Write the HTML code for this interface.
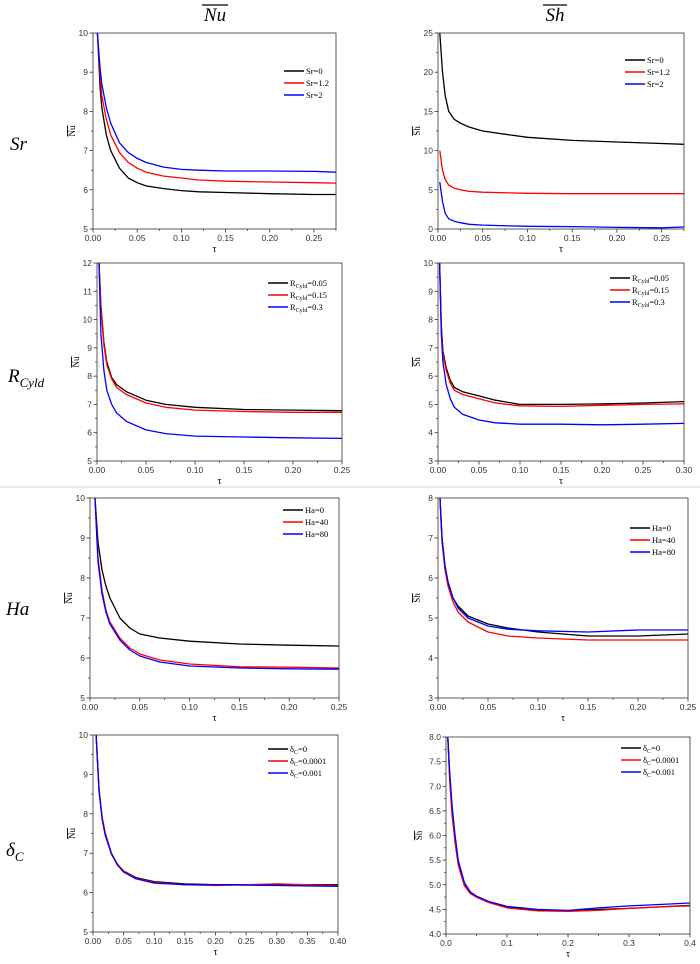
<!DOCTYPE html>
<html><head><meta charset="utf-8"><style>
body{margin:0;background:#fff;width:700px;height:964px;overflow:hidden;font-family:"Liberation Serif",serif}
svg{display:block}
</style></head><body>
<svg id="fig" width="700" height="964" viewBox="0 0 700 964">
<line x1="0" y1="487" x2="700" y2="487" stroke="#e4e4e4" stroke-width="1.5"/>
<text x="215" y="21" font-size="19" font-style="italic" text-anchor="middle" font-family="Liberation Serif, serif">Nu</text>
<line x1="202" y1="5" x2="228" y2="5" stroke="#000" stroke-width="1.2"/>
<text x="555" y="21" font-size="19" font-style="italic" text-anchor="middle" font-family="Liberation Serif, serif">Sh</text>
<line x1="543" y1="5" x2="567" y2="5" stroke="#000" stroke-width="1.2"/>
<text x="10" y="150" font-size="19" font-style="italic" font-family="Liberation Serif, serif">Sr</text>
<text x="8" y="382" font-size="19" font-style="italic" font-family="Liberation Serif, serif">R<tspan font-size="13" dy="5">Cyld</tspan></text>
<text x="6" y="615" font-size="19" font-style="italic" font-family="Liberation Serif, serif">Ha</text>
<text x="6" y="856" font-size="19" font-style="italic" font-family="Liberation Serif, serif">δ<tspan font-size="13" dy="5">C</tspan></text>
</svg>
<script>
// ---- data ----
const srTau=[0.005,0.008,0.01,0.015,0.02,0.03,0.04,0.05,0.06,0.08,0.1,0.12,0.15,0.2,0.25,0.275];
const srNu0=[10,8.6,8.1,7.4,7.0,6.55,6.3,6.18,6.1,6.03,5.98,5.95,5.93,5.9,5.88,5.88];
const srNu12=[10,8.9,8.4,7.8,7.4,6.95,6.7,6.55,6.45,6.35,6.3,6.25,6.22,6.2,6.18,6.17];
const srNu2=[10,9.1,8.7,8.1,7.7,7.2,6.95,6.8,6.7,6.58,6.52,6.5,6.48,6.48,6.47,6.45];
const srShTau=[0.002,0.005,0.008,0.012,0.018,0.025,0.035,0.05,0.08,0.1,0.15,0.2,0.25,0.275];
const srSh0=[25,20,17,15,14,13.5,13,12.5,12,11.7,11.3,11.1,10.9,10.8];
const srSh12=[10,7.5,6.3,5.6,5.2,5.0,4.8,4.7,4.6,4.55,4.5,4.5,4.5,4.5];
const srSh2=[6,3.5,2,1.3,1.0,0.8,0.6,0.5,0.4,0.35,0.3,0.2,0.15,0.25];
const rNuTau=[0.002,0.004,0.007,0.01,0.015,0.02,0.03,0.05,0.07,0.1,0.15,0.2,0.25];
const rNu05=[12,10.5,9.2,8.5,7.95,7.7,7.45,7.15,7.0,6.9,6.82,6.8,6.78];
const rNu15=[12,10.4,9.1,8.4,7.9,7.6,7.35,7.05,6.9,6.8,6.75,6.72,6.72];
const rNu3=[12,9.5,8.2,7.5,7.0,6.7,6.4,6.1,5.97,5.88,5.85,5.82,5.8];
const rShTau=[0.002,0.004,0.006,0.01,0.015,0.02,0.03,0.05,0.07,0.1,0.15,0.2,0.25,0.3];
const rSh05=[10,7.8,6.9,6.3,5.85,5.6,5.45,5.3,5.15,5.0,5.0,5.02,5.05,5.1];
const rSh15=[10,7.7,6.8,6.2,5.75,5.5,5.35,5.2,5.05,4.95,4.93,4.97,5.0,5.02];
const rSh3=[10,7.5,6.5,5.7,5.2,4.9,4.65,4.45,4.35,4.3,4.3,4.28,4.3,4.33];
const haNuTau=[0.005,0.008,0.012,0.016,0.02,0.03,0.04,0.05,0.07,0.1,0.15,0.2,0.25];
const haNu0=[10,8.9,8.2,7.8,7.5,7.0,6.75,6.6,6.5,6.42,6.35,6.32,6.3];
const haNu40=[10,8.5,7.7,7.2,6.9,6.5,6.25,6.1,5.95,5.85,5.78,5.77,5.75];
const haNu80=[10,8.4,7.6,7.15,6.85,6.45,6.2,6.05,5.9,5.8,5.75,5.73,5.72];
const haShTau=[0.002,0.004,0.007,0.01,0.015,0.02,0.03,0.05,0.07,0.1,0.15,0.2,0.25];
const haSh0=[8,7.0,6.3,5.9,5.5,5.3,5.05,4.85,4.75,4.65,4.55,4.55,4.6];
const haSh40=[8,6.9,6.2,5.8,5.4,5.15,4.9,4.65,4.55,4.5,4.45,4.45,4.45];
const haSh80=[8,7.0,6.3,5.9,5.5,5.25,5.0,4.8,4.72,4.68,4.65,4.7,4.7];
const dNuTau=[0.005,0.01,0.015,0.02,0.03,0.04,0.05,0.07,0.1,0.15,0.2,0.3,0.4];
const dNu0=[10,8.6,7.9,7.5,7.0,6.7,6.55,6.38,6.28,6.22,6.2,6.2,6.2];
const dNu1=[10,8.6,7.9,7.5,7.0,6.72,6.55,6.36,6.26,6.2,6.18,6.22,6.18];
const dNu2=[10,8.55,7.85,7.45,6.98,6.7,6.52,6.35,6.24,6.2,6.2,6.18,6.16];
const dShTau=[0.003,0.006,0.01,0.015,0.02,0.03,0.04,0.05,0.07,0.1,0.15,0.2,0.25,0.3,0.35,0.4];
const dSh0=[8,7.2,6.5,5.9,5.45,5.0,4.82,4.75,4.65,4.55,4.48,4.47,4.5,4.52,4.55,4.58];
const dSh1=[8,7.1,6.4,5.85,5.4,4.98,4.82,4.75,4.64,4.53,4.47,4.46,4.48,4.52,4.55,4.57];
const dSh2=[8,7.3,6.6,6.0,5.5,5.05,4.85,4.77,4.66,4.56,4.5,4.48,4.53,4.57,4.6,4.63];
const xTicks5=["0.00","0.05","0.10","0.15","0.20","0.25"];
const xTicks6=["0.00","0.05","0.10","0.15","0.20","0.25","0.30"];
const xTicks8=["0.00","0.05","0.10","0.15","0.20","0.25","0.30","0.35","0.40"];
const xTicksD=["0.0","0.1","0.2","0.3","0.4"];
const COLORS=["#000","#f00","#00f"];
const NS="http://www.w3.org/2000/svg";
const fig=document.getElementById('fig');
function mk(tag,attrs,parent,txt){const e=document.createElementNS(NS,tag);for(const k in attrs)e.setAttribute(k,attrs[k]);if(txt!==undefined)e.textContent=txt;(parent||fig).appendChild(e);return e;}

function panel(p){
  const g=mk('g',{});
  
  
  const X=v=>p.x0+(v-p.xmin)/(p.xmax-p.xmin)*(p.x1-p.x0);
  const Y=v=>p.y1-(v-p.ymin)/(p.ymax-p.ymin)*(p.y1-p.y0);
  p.series.forEach((s,i)=>{
    const pts=s.tau.map((t,j)=>X(t).toFixed(1)+','+Y(Math.min(s.vals[j],p.ymax)).toFixed(1)).join(' ');
    const pl=mk('polyline',{points:pts,fill:'none',stroke:COLORS[i],'stroke-width':1.3,'stroke-linejoin':'round'},g);
    
    
  });
  const fr=mk('rect',{x:p.x0,y:p.y0,width:p.x1-p.x0,height:p.y1-p.y0,fill:'none',stroke:'#333','stroke-width':0.8},g);
  
  
  const xs=parseFloat(p.xt[1])-parseFloat(p.xt[0]);
  for(let v=p.xmin+xs/2;v<p.xmax;v+=xs){
    const x=X(v);
    mk('line',{x1:x,y1:p.y1,x2:x,y2:p.y1+2,stroke:'#333','stroke-width':0.7},g);
  }
  p.xt.forEach(lbl=>{
    const v=parseFloat(lbl),x=X(v);
    mk('line',{x1:x,y1:p.y1,x2:x,y2:p.y1+3.5,stroke:'#333','stroke-width':0.8},g);
    const t=mk('text',{x:x,y:p.y1+12,'font-size':8.5,'text-anchor':'middle',fill:'#333','font-family':'Liberation Sans, sans-serif'},g,lbl);
    
    
  });
  for(let v=p.ymin;v<=p.ymax+1e-9;v+=p.ystep){
    const y=Y(v);
    mk('line',{x1:p.x0-3.5,y1:y,x2:p.x0,y2:y,stroke:'#333','stroke-width':0.8},g);
    if(v+p.ystep/2<p.ymax){const ym=Y(v+p.ystep/2);mk('line',{x1:p.x0-2,y1:ym,x2:p.x0,y2:ym,stroke:'#333','stroke-width':0.7},g);}
    const t=mk('text',{x:p.x0-5,y:y+3,'font-size':8.5,'text-anchor':'end',fill:'#333','font-family':'Liberation Sans, sans-serif'},g,p.yfmt?v.toFixed(1):String(Math.round(v)));
    
    
  }
  const xl=mk('text',{x:(p.x0+p.x1)/2,y:p.y1+23,'font-size':10,'text-anchor':'middle'},g,'τ');
  
  
  const yx=p.x0-(p.yfmt?24:18),yy=(p.y0+p.y1)/2;
  const yl=mk('text',{x:yx,y:yy,'font-size':9,'text-anchor':'middle',transform:`rotate(-90 ${yx} ${yy})`,'text-decoration':'overline'},g,p.ylab);
  
  
  p.leg.forEach((lab,i)=>{
    const ly=p.y0+p.ly+i*12;
    mk('line',{x1:p.lx,y1:ly,x2:p.lx+20,y2:ly,stroke:COLORS[i],'stroke-width':1.6},g);
    const t=mk('text',{x:p.lx+22,y:ly+3,'font-size':8.5},g);
    
    
    t.innerHTML=lab;
  });
}
const RC='R<tspan font-size="6" dy="2">Cyld</tspan><tspan dy="-2">';
const DC='δ<tspan font-size="6" dy="2">C</tspan><tspan dy="-2">';
panel({name:'sr-nu-chart',x0:93,x1:336,y0:33,y1:229,xmin:0,xmax:0.275,ymin:5,ymax:10,ystep:1,xt:xTicks5,ylab:'Nu',lx:284,ly:38,
  leg:['Sr=0','Sr=1.2','Sr=2'],series:[{tau:srTau,vals:srNu0},{tau:srTau,vals:srNu12},{tau:srTau,vals:srNu2}]});
panel({name:'sr-sh-chart',x0:438,x1:684,y0:33,y1:229,xmin:0,xmax:0.275,ymin:0,ymax:25,ystep:5,xt:xTicks5,ylab:'Sh',lx:625,ly:27,
  leg:['Sr=0','Sr=1.2','Sr=2'],series:[{tau:srShTau,vals:srSh0},{tau:srShTau,vals:srSh12},{tau:srShTau,vals:srSh2}]});
panel({name:'rcyld-nu-chart',x0:97,x1:342,y0:263,y1:461,xmin:0,xmax:0.25,ymin:5,ymax:12,ystep:1,xt:xTicks5,ylab:'Nu',lx:268,ly:20,
  leg:[RC+'=0.05</tspan>',RC+'=0.15</tspan>',RC+'=0.3</tspan>'],series:[{tau:rNuTau,vals:rNu05},{tau:rNuTau,vals:rNu15},{tau:rNuTau,vals:rNu3}]});
panel({name:'rcyld-sh-chart',x0:438,x1:684,y0:263,y1:461,xmin:0,xmax:0.30,ymin:3,ymax:10,ystep:1,xt:xTicks6,ylab:'Sh',lx:610,ly:15,
  leg:[RC+'=0.05</tspan>',RC+'=0.15</tspan>',RC+'=0.3</tspan>'],series:[{tau:rShTau,vals:rSh05},{tau:rShTau,vals:rSh15},{tau:rShTau,vals:rSh3}]});
panel({name:'ha-nu-chart',x0:90,x1:339,y0:498,y1:698,xmin:0,xmax:0.25,ymin:5,ymax:10,ystep:1,xt:xTicks5,ylab:'Nu',lx:283,ly:12,
  leg:['Ha=0','Ha=40','Ha=80'],series:[{tau:haNuTau,vals:haNu0},{tau:haNuTau,vals:haNu40},{tau:haNuTau,vals:haNu80}]});
panel({name:'ha-sh-chart',x0:438,x1:688,y0:498,y1:698,xmin:0,xmax:0.25,ymin:3,ymax:8,ystep:1,xt:xTicks5,ylab:'Sh',lx:630,ly:30,
  leg:['Ha=0','Ha=40','Ha=80'],series:[{tau:haShTau,vals:haSh0},{tau:haShTau,vals:haSh40},{tau:haShTau,vals:haSh80}]});
panel({name:'deltac-nu-chart',x0:93,x1:338,y0:735,y1:932,xmin:0,xmax:0.40,ymin:5,ymax:10,ystep:1,xt:xTicks8,ylab:'Nu',lx:268,ly:14,
  leg:[DC+'=0</tspan>',DC+'=0.0001</tspan>',DC+'=0.001</tspan>'],series:[{tau:dNuTau,vals:dNu0},{tau:dNuTau,vals:dNu1},{tau:dNuTau,vals:dNu2}]});
panel({name:'deltac-sh-chart',x0:446,x1:690,y0:737,y1:934,xmin:0,xmax:0.4,ymin:4,ymax:8,ystep:0.5,yfmt:true,xt:xTicksD,ylab:'Sh',lx:621,ly:11,
  leg:[DC+'=0</tspan>',DC+'=0.0001</tspan>',DC+'=0.001</tspan>'],series:[{tau:dShTau,vals:dSh0},{tau:dShTau,vals:dSh1},{tau:dShTau,vals:dSh2}]});
</script>
</body></html>
